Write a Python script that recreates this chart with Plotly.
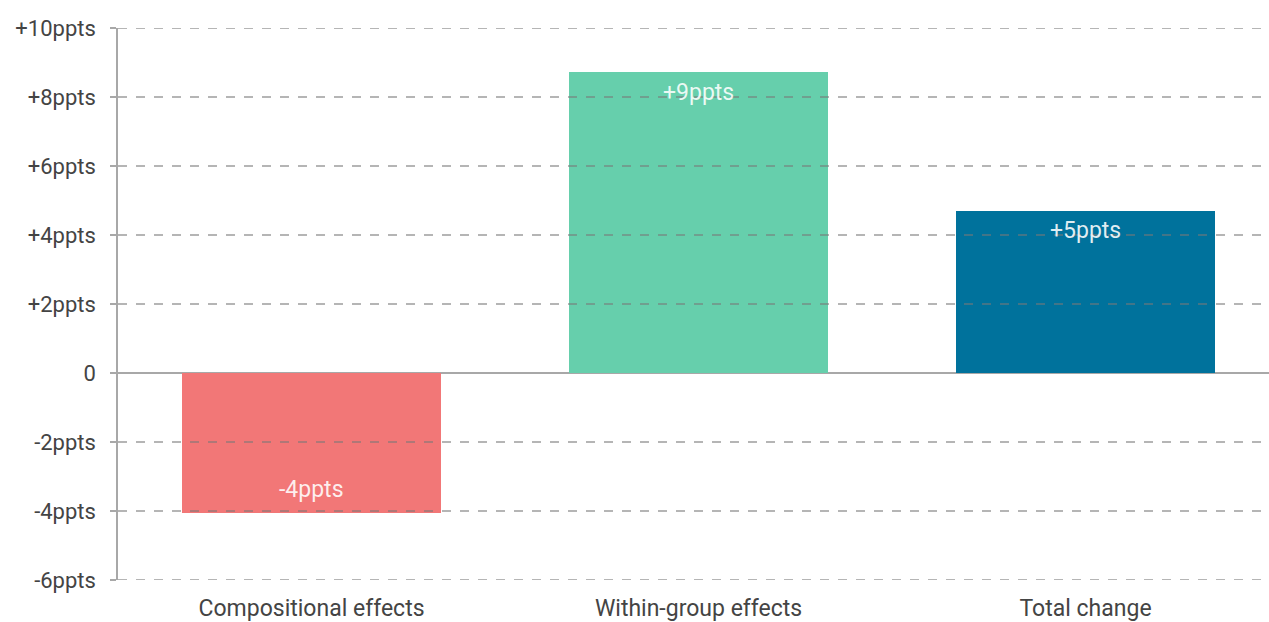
import plotly.graph_objects as go

categories = ["Compositional effects", "Within-group effects", "Total change"]
values = [-4.05, 8.72, 4.70]
bar_colors = ["#F27777", "#66CFAC", "#00729C"]
tick_values = [-6, -4, -2, 0, 2, 4, 6, 8, 10]
tick_labels = ["-6ppts", "-4ppts", "-2ppts", "0", "+2ppts", "+4ppts", "+6ppts", "+8ppts", "+10ppts"]

bar_text = [f"{round(v):+d}ppts" for v in values]

fig = go.Figure()
fig.add_trace(go.Bar(
    x=categories,
    y=values,
    width=0.667,
    marker=dict(color=bar_colors, line=dict(width=0)),
    hoverinfo="skip",
))

# value labels sit just inside the end of each bar
for cat, v, txt in zip(categories, values, bar_text):
    fig.add_annotation(
        x=cat, y=v, text=txt, showarrow=False,
        xanchor="center", yanchor="middle",
        yshift=-20 if v >= 0 else 23,
        font=dict(family="Roboto", size=23, color="rgba(255,255,255,0.88)"),
    )

# dashed gridlines drawn over the bars
for tv in tick_values:
    if tv == 0:
        continue
    fig.add_shape(
        type="line", xref="paper", yref="y",
        x0=0, x1=1, y0=tv, y1=tv,
        line=dict(color="rgba(120,120,120,0.55)", width=2, dash="dash"),
        layer="above",
    )

fig.update_layout(
    width=1269, height=622,
    margin=dict(l=118, r=0, t=28, b=42),
    paper_bgcolor="white",
    plot_bgcolor="white",
    showlegend=False,
    bargap=0,
    font=dict(family="Roboto", size=23, color="#444444"),
)
fig.update_xaxes(
    range=[-0.5, 2.474],
    showgrid=False,
    showline=False,
    ticks="",
    ticklabelstandoff=12,
    tickfont=dict(family="Roboto", size=23, color="#444444"),
    fixedrange=True,
)
fig.update_yaxes(
    range=[-6, 10],
    tickvals=tick_values,
    ticktext=tick_labels,
    showgrid=False,
    zeroline=True,
    zerolinecolor="#A8A8A8",
    zerolinewidth=1.5,
    showline=True,
    linecolor="#A8A8A8",
    linewidth=1.5,
    ticks="outside",
    ticklen=6,
    tickcolor="#A8A8A8",
    tickwidth=1.5,
    ticklabelstandoff=10,
    tickfont=dict(family="Roboto", size=22, color="#444444"),
    fixedrange=True,
)

fig.write_html("out.html", config={"displayModeBar": False})
